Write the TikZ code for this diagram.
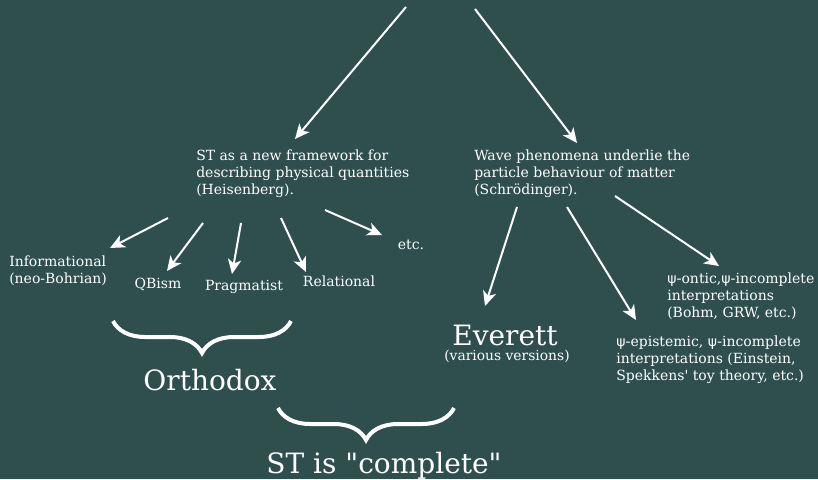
\documentclass[tikz,border=0pt]{standalone}
\usepackage{fontspec}
\setmainfont[Ligatures=TeXOff]{DejaVu Serif}
\newfontfamily\psifont{DejaVu Sans}
\usetikzlibrary{arrows.meta,decorations.pathreplacing}

\definecolor{boardgreen}{RGB}{47,79,79}

\tikzset{
	arr/.style={draw=white, line width=1.5pt,
		-{Stealth[length=11pt, width=10pt, inset=3pt]}},
	txt/.style={text=white, inner sep=0pt, align=left,
		font=\fontsize{10.5}{12.75}\selectfont},
	small/.style={text=white, inner sep=0pt,
		font=\fontsize{10.4}{12}\selectfont},
	big/.style={text=white, inner sep=0pt,
		font=\fontsize{21}{25}\selectfont},
	brace/.style={draw=white, line width=3pt,
		decorate, decoration={brace, mirror, amplitude=24pt}}
}

\newcommand{\psiof}{{\psifont ψ-}}

\begin{document}
\begin{tikzpicture}[x=0.75pt, y=-0.75pt]
		
		% background
		\fill[boardgreen] (0,0) rectangle (818,479);
		\useasboundingbox (0,0) rectangle (818,479);
		
		% top
		\coordinate (src1) at (406,7);
		\coordinate (src2) at (475,9);
		
		% two main ideas
		\node[txt, anchor=north west] (heis) at (196,150)
		{ST as a new framework for\\describing physical quantities\\(Heisenberg).};
		
		\node[txt, anchor=north west] (schr) at (474,150)
		{Wave phenomena underlie the\\particle behaviour of matter\\(Schrödinger).};
		
		\draw[arr] (src1) -- ([shift={(99,-11)}]heis.north west);
		\draw[arr] (src2) -- ([shift={(103,-7)}]schr.north west);
		
		% orthodox family
		\node[txt, anchor=north west] (info) at (9,256)
		{Informational\\(neo-Bohrian)};
		\node[txt, anchor=base] (qbism) at (158,288) {QBism};
		\node[txt, anchor=base] (prag) at (244,290) {Pragmatist};
		\node[txt, anchor=base] (rel) at (339,286) {Relational};
		\node[txt, anchor=base] (etc) at (411,249) {etc.};
		
		\draw[arr] ([shift={(-28,68)}]heis.north west) -- ([shift={(101,-8)}]info.north west);
		\draw[arr] ([shift={(7,73)}]heis.north west) -- ([shift={(9,-17)}]qbism.base);
		\draw[arr] ([shift={(45,73)}]heis.north west) -- ([shift={(-12,-16)}]prag.base);
		\draw[arr] ([shift={(85,68)}]heis.north west) -- ([shift={(-33,-14)}]rel.base);
		\draw[arr] ([shift={(129,60)}]heis.north west) -- ([shift={(-29,-14)}]etc.base);
		
		% the other side
		\node[big, anchor=base, text depth=0pt] (everett) at (505,345) {Everett};
		\node[small, anchor=base] (evsub) at (507,360) {(various versions)};
		
		\node[txt, anchor=north west] (ontic) at (667,273)
		{\psiof ontic,\psiof incomplete\\interpretations\\(Bohm, GRW, etc.)};
		
		\node[txt, anchor=north west] (epi) at (616,336)
		{\psiof epistemic, \psiof incomplete\\interpretations (Einstein,\\Spekkens' toy theory, etc.)};
		
		\draw[arr] ([shift={(43,57)}]schr.north west) -- ([shift={(-20,-39)}]everett.base);
		\draw[arr] ([shift={(93,57)}]schr.north west) -- ([shift={(20,-16)}]epi.north west);
		\draw[arr] ([shift={(141,46)}]schr.north west) -- ([shift={(52,-7)}]ontic.north west);
		
		% braces
		\draw[brace] (113,321) -- (291,321);
		\node[big, anchor=base] (ortho) at (210,390) {Orthodox};
		
		\draw[brace] (278,408) -- (454,408);
		\node[big, anchor=base] (complete) at (384,473) {ST is "complete"};
		
	\end{tikzpicture}
\end{document}
